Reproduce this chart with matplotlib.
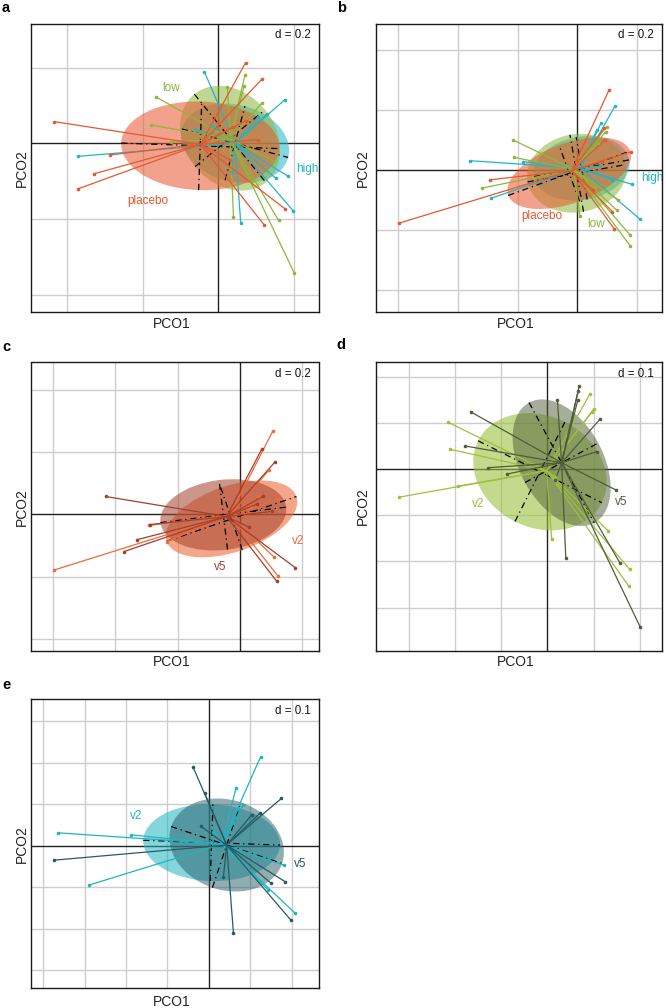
import numpy as np
import matplotlib
matplotlib.use("Agg")
import matplotlib.pyplot as plt
from matplotlib.patches import Ellipse
from matplotlib.collections import LineCollection

plt.rcParams['font.family'] = ['Liberation Sans', 'DejaVu Sans']

W, H = 666, 1008

# ---------------- Panel a (d = 0.2) ----------------
A_PLACEBO_X = [-0.434, -0.286, -0.329, -0.372, 0.072, 0.115, 0.177, 0.121, 0.104, 0.040, 0.031, 0.073]
A_PLACEBO_Y = [0.057, -0.031, -0.081, -0.121, 0.213, 0.169, -0.174, -0.216, 0.009, 0.044, -0.044, 0.059]
A_PLACEBO_C = (-0.047, -0.003)
A_PLACEBO_ELL = (-0.048, -0.007, 0.418, 0.234, -2)
A_LOW_X = [-0.166, -0.178, 0.070, 0.068, 0.024, 0.115, 0.040, 0.159, 0.201, 0.148, 0.088, -0.125]
A_LOW_Y = [0.123, 0.048, 0.179, 0.150, 0.148, 0.106, -0.194, -0.204, -0.344, -0.048, -0.101, 0.004]
A_LOW_C = (0.031, 0.011)
A_LOW_ELL = (0.031, 0.013, 0.300, 0.238, -51)
A_HIGH_X = [-0.372, -0.037, 0.176, 0.128, 0.106, -0.018, -0.063, 0.035, 0.185, 0.152, 0.198, 0.059]
A_HIGH_Y = [-0.035, 0.189, 0.115, 0.077, 0.070, 0.046, 0.038, -0.075, -0.088, -0.093, -0.179, -0.210]
A_HIGH_C = (0.044, 0.0)
A_HIGH_ELL = (0.044, 0.0, 0.291, 0.203, -15)

# ---------------- Panel b (d = 0.2) ----------------
B_PLACEBO_X = [-0.596, -0.292, 0.106, 0.090, 0.180, 0.117, 0.124, 0.092, 0.053, 0.081]
B_PLACEBO_Y = [-0.178, -0.033, 0.267, 0.139, 0.061, -0.139, -0.198, 0.100, -0.067, 0.028]
B_PLACEBO_C = (-0.019, -0.002)
B_PLACEBO_ELL = (-0.027, -0.011, 0.434, 0.200, 20)
B_LOW_X = [-0.214, -0.211, -0.320, 0.009, 0.098, 0.095, 0.176, 0.176, 0.131, 0.059, 0.070, 0.137]
B_LOW_Y = [0.100, 0.042, -0.061, -0.154, 0.145, 0.128, -0.217, -0.253, -0.134, -0.056, 0.089, -0.100]
B_LOW_C = (-0.013, 0.002)
B_LOW_ELL = (-0.002, -0.011, 0.334, 0.261, 10)
B_HIGH_X = [-0.359, -0.290, 0.126, 0.065, 0.079, 0.182, 0.209, -0.180, 0.076, 0.115]
B_HIGH_Y = [0.031, -0.095, 0.214, 0.134, 0.156, -0.048, -0.164, 0.028, 0.013, -0.033]
B_HIGH_C = (0.009, 0.006)
B_HIGH_ELL = (0.0145, 0.0056, 0.323, 0.212, 10)

# ---------------- Panel c (d = 0.2) ----------------
C_V2_X = [-0.597, -0.236, 0.105, 0.094, 0.123, 0.110, 0.121, 0.102, 0.037, -0.291, 0.059]
C_V2_Y = [-0.179, -0.088, 0.266, 0.142, 0.048, -0.138, -0.197, 0.009, 0.019, -0.036, 0.057]
C_V2_C = (-0.032, -0.002)
C_V2_ELL = (-0.027, -0.015, 0.441, 0.212, 19)
C_V5_X = [-0.432, -0.289, -0.332, -0.373, 0.070, 0.112, 0.073, 0.054, 0.177, 0.118, 0.030, 0.102]
C_V5_Y = [0.057, -0.033, -0.082, -0.120, 0.209, 0.167, 0.057, 0.032, -0.171, -0.215, -0.042, 0.009]
C_V5_C = (-0.043, -0.0075)
C_V5_ELL = (-0.0535, -0.002, 0.407, 0.225, 7)

# ---------------- Panel d (d = 0.1) ----------------
D_V2_X = [-0.321, -0.214, -0.211, -0.193, 0.092, 0.100, 0.097, 0.0094, 0.132, 0.178, 0.176, 0.017]
D_V2_Y = [-0.061, 0.101, 0.043, -0.037, 0.162, 0.129, 0.124, -0.152, -0.134, -0.217, -0.253, -0.017]
D_V2_C = (-0.0014, -0.0036)
D_V2_ELL = (-0.0159, -0.0058, 0.299, 0.241, -26.6)
D_V5_X = [-0.166, -0.178, -0.128, -0.088, 0.022, 0.069, 0.067, 0.066, 0.114, 0.108, 0.148, 0.040, 0.157, 0.201, 0.017]
D_V5_Y = [0.124, 0.050, 0.003, -0.011, 0.149, 0.180, 0.169, 0.149, 0.108, 0.038, -0.045, -0.192, -0.203, -0.342, -0.024]
D_V5_C = (0.031, 0.0137)
D_V5_ELL = (0.031, 0.0137, 0.296, 0.180, -61.6)

# ---------------- Panel e (d = 0.1) ----------------
E_V2_X = [-0.364, -0.187, -0.289, 0.125, 0.065, 0.208, 0.180, 0.143, 0.083, 0.071, 0.010]
E_V2_Y = [0.031, 0.026, -0.095, 0.215, 0.138, -0.163, -0.047, -0.107, 0.098, 0.090, 0.034]
E_V2_C = (0.031, 0.004)
E_V2_ELL = (0.0064, 0.0072, 0.330, 0.185, -2)
E_V5_X = [-0.374, -0.038, -0.010, 0.175, 0.123, 0.103, -0.020, 0.184, 0.150, 0.198, 0.059, 0.035]
E_V5_Y = [-0.035, 0.189, 0.126, 0.114, 0.078, 0.074, 0.047, -0.087, -0.091, -0.180, -0.210, -0.075]
E_V5_C = (0.0427, 0.0016)
E_V5_ELL = (0.0427, 0.0016, 0.282, 0.217, -18.4)

fig = plt.figure(figsize=(W / 100, H / 100), dpi=100)


def fx(px):
    return px / W


def fy(py):
    return 1 - py / H


def panel(box, xlim, ylim, d, groups, dtext, letter, letter_xy, pco1_y, pco2_x):
    l, t, r, b = box
    ax = fig.add_axes([l / W, 1 - b / H, (r - l) / W, (b - t) / H])
    ax.set_xlim(xlim)
    ax.set_ylim(ylim)
    ax.set_xticks([])
    ax.set_yticks([])
    for s in ax.spines.values():
        s.set_linewidth(1.0)
        s.set_color('#1a1a1a')
        s.set_zorder(10)
    # grid
    k0 = int(np.ceil(xlim[0] / d))
    k1 = int(np.floor(xlim[1] / d))
    for k in range(k0, k1 + 1):
        if k != 0:
            ax.axvline(k * d, color='#cdcdcd', lw=1.0, zorder=0)
    k0 = int(np.ceil(ylim[0] / d))
    k1 = int(np.floor(ylim[1] / d))
    for k in range(k0, k1 + 1):
        if k != 0:
            ax.axhline(k * d, color='#cdcdcd', lw=1.0, zorder=0)
    ax.axvline(0, color='#222222', lw=1.0, zorder=0.5)
    ax.axhline(0, color='#222222', lw=1.0, zorder=0.5)
    # ellipses
    for g in groups:
        cx, cy, w, h, ang = g['ell']
        e = Ellipse((cx, cy), w, h, angle=ang, facecolor=g['fill'], alpha=g['alpha'],
                    edgecolor='none', zorder=1)
        ax.add_patch(e)
    for g in groups:
        cx, cy, w, h, ang = g['ell']
        th = np.deg2rad(ang)
        ux, uy = np.cos(th), np.sin(th)
        vx, vy = -np.sin(th), np.cos(th)
        ax.plot([cx - ux * w / 2, cx + ux * w / 2], [cy - uy * w / 2, cy + uy * w / 2],
                color='black', lw=0.9, ls=(0, (5, 3, 1, 3)), zorder=2)
        ax.plot([cx - vx * h / 2, cx + vx * h / 2], [cy - vy * h / 2, cy + vy * h / 2],
                color='black', lw=0.9, ls=(0, (5, 3, 1, 3)), zorder=2)
    # spider lines and points
    for g in groups:
        cx, cy = g['c']
        segs = [[(cx, cy), (x, y)] for x, y in zip(g['x'], g['y'])]
        ax.add_collection(LineCollection(segs, colors=g['color'], linewidths=0.9, zorder=3))
        ax.plot(g['x'], g['y'], 'o', ms=2.6, color=g['color'], mec='none', zorder=4)
    for g in groups:
        ax.text(g['lab'][0], g['lab'][1], g['name'], color=g['color'], fontsize=8.5,
                ha='center', va='center', zorder=6, clip_on=False)
    # d label
    fig.text(fx(r - 8.5), fy(t + 11.5), dtext, ha='right', va='center', fontsize=8.3,
             color='#111111')
    fig.text(fx(letter_xy[0]), fy(letter_xy[1]), letter, ha='left', va='center',
             fontsize=10.5, fontweight='bold')
    fig.text(fx((l + r) / 2 - 3), fy(pco1_y), 'PCO1', ha='center', va='center', fontsize=10,
             color='#222222')
    fig.text(fx(pco2_x), fy((t + b) / 2), 'PCO2', ha='center', va='center', fontsize=10,
             rotation=90, color='#222222')
    return ax


ORANGE = '#E8572E'
GREEN = '#8DB63C'
TEAL = '#22B5C8'

panel((30.7, 24, 319, 312.3), (-0.496, 0.266), (-0.447, 0.315), 0.2,
      [dict(name='high', x=A_HIGH_X, y=A_HIGH_Y, c=A_HIGH_C, ell=A_HIGH_ELL,
            color=TEAL, fill=TEAL, alpha=0.55, lab=(0.234, -0.069)),
       dict(name='low', x=A_LOW_X, y=A_LOW_Y, c=A_LOW_C, ell=A_LOW_ELL,
            color=GREEN, fill=GREEN, alpha=0.55, lab=(-0.126, 0.145)),
       dict(name='placebo', x=A_PLACEBO_X, y=A_PLACEBO_Y, c=A_PLACEBO_C, ell=A_PLACEBO_ELL,
            color=ORANGE, fill=ORANGE, alpha=0.55, lab=(-0.186, -0.152))],
      'd = 0.2', 'a', (2, 8.5), 323.5, 21.7)

panel((375.7, 24, 662, 312.3), (-0.674, 0.283), (-0.476, 0.488), 0.2,
      [dict(name='high', x=B_HIGH_X, y=B_HIGH_Y, c=B_HIGH_C, ell=B_HIGH_ELL,
            color=TEAL, fill=TEAL, alpha=0.55, lab=(0.249, -0.028)),
       dict(name='low', x=B_LOW_X, y=B_LOW_Y, c=B_LOW_C, ell=B_LOW_ELL,
            color=GREEN, fill=GREEN, alpha=0.55, lab=(0.0615, -0.181)),
       dict(name='placebo', x=B_PLACEBO_X, y=B_PLACEBO_Y, c=B_PLACEBO_C, ell=B_PLACEBO_ELL,
            color=ORANGE, fill=ORANGE, alpha=0.55, lab=(-0.117, -0.154))],
      'd = 0.2', 'b', (337, 8.5), 324, 363.3)

panel((30.7, 362.5, 319, 651), (-0.6725, 0.254), (-0.439, 0.487), 0.2,
      [dict(name='v2', x=C_V2_X, y=C_V2_Y, c=C_V2_C, ell=C_V2_ELL,
            color='#EE6B3B', fill='#EE6B3B', alpha=0.6, lab=(0.187, -0.086)),
       dict(name='v5', x=C_V5_X, y=C_V5_Y, c=C_V5_C, ell=C_V5_ELL,
            color='#A3402A', fill='#A3402A', alpha=0.55, lab=(-0.062, -0.168))],
      'd = 0.2', 'c', (2, 346.7), 661.7, 21.7)

panel((375.7, 362.3, 662, 650.7), (-0.371, 0.248), (-0.393, 0.231), 0.1,
      [dict(name='v2', x=D_V2_X, y=D_V2_Y, c=D_V2_C, ell=D_V2_ELL,
            color='#9CC13E', fill='#9CC13E', alpha=0.6, lab=(-0.149, -0.076)),
       dict(name='v5', x=D_V5_X, y=D_V5_Y, c=D_V5_C, ell=D_V5_ELL,
            color='#4F5E39', fill='#4F5E39', alpha=0.5, lab=(0.159, -0.071))],
      'd = 0.1', 'd', (336, 345), 661.7, 363.3)

panel((30.7, 699.3, 319, 988.3), (-0.430, 0.2655), (-0.344, 0.353), 0.1,
      [dict(name='v2', x=E_V2_X, y=E_V2_Y, c=E_V2_C, ell=E_V2_ELL,
            color='#1FB5C0', fill='#1FB5C0', alpha=0.55, lab=(-0.176, 0.072)),
       dict(name='v5', x=E_V5_X, y=E_V5_Y, c=E_V5_C, ell=E_V5_ELL,
            color='#245C66', fill='#245C66', alpha=0.5, lab=(0.220, -0.045))],
      'd = 0.1', 'e', (2, 685), 1001.7, 21.7)

fig.savefig('out.png', dpi=100)
